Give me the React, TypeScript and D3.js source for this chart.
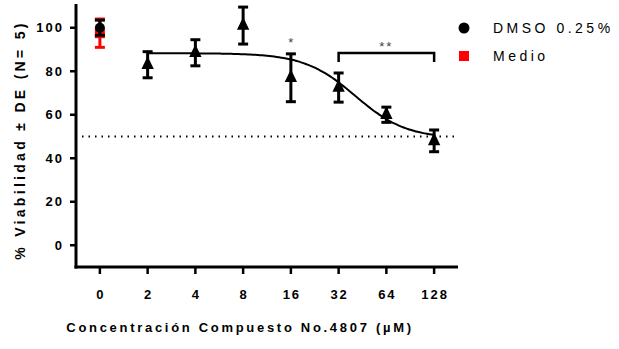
import React from "react";
import * as d3 from "d3";

// concentraciones (uM) y viabilidad media ± DE
const concentrations = [2, 4, 8, 16, 32, 64, 128];
const means = [83, 88.5, 101, 77, 72.5, 60, 48];
const sds = [6, 6, 8.5, 11, 6.7, 3.5, 5];

const xTickLabels = ["0", "2", "4", "8", "16", "32", "64", "128"];
const yTicks = [0, 20, 40, 60, 80, 100];

// controles en concentración 0
const dmso = { mean: 100, sd: 3.5 };
const medio = { mean: 97.5, sd: 6.5 };

// ajuste sigmoidal (4 parámetros, eje log2)
const fitTop = 88.3;
const fitBottom = 49;
const fitLogEC50 = 5.35;
const fitSlope = 2.7;

const FONT = "'Liberation Sans', Arial, sans-serif";

export default function App() {
  const width = 619;
  const height = 349;

  const x = d3.scaleLinear().domain([-0.5, 7.5]).range([76, 458]);
  const y = d3.scaleLinear().domain([-10, 110]).range([267, 6]);
  const pos = (c: number) => (c === 0 ? 0 : Math.log2(c));

  const fit = (t: number) =>
    fitBottom + (fitTop - fitBottom) / (1 + Math.pow(2, (t - fitLogEC50) * fitSlope));
  const curvePts = d3.range(1, 7.001, 0.05);
  const line = d3
    .line<number>()
    .x((t) => x(t))
    .y((t) => y(fit(t)))
    .curve(d3.curveMonotoneX);

  const tri = d3.symbol().type(d3.symbolTriangle).size(66)();

  const errBar = (cx: number, m: number, s: number, color: string, key: string) => (
    <g key={key} stroke={color} strokeWidth={3}>
      <line x1={cx} x2={cx} y1={y(m + s)} y2={y(m - s)} />
      <line x1={cx - 5} x2={cx + 5} y1={y(m + s)} y2={y(m + s)} />
      <line x1={cx - 5} x2={cx + 5} y1={y(m - s)} y2={y(m - s)} />
    </g>
  );

  const x0 = x(0);
  const bx1 = x(pos(32));
  const bx2 = x(pos(128));

  return (
    <svg
      width={width}
      height={height}
      style={{ position: "absolute", left: 0, top: 0, background: "#fff" }}
      fontFamily={FONT}
    >
      {/* línea de 50% */}
      <line
        x1={82}
        x2={458}
        y1={y(50)}
        y2={y(50)}
        stroke="#000"
        strokeWidth={2}
        strokeDasharray="1.5 5"
      />

      {/* curva ajustada */}
      <path d={line(curvePts) ?? ""} fill="none" stroke="#000" strokeWidth={2} />

      {/* controles */}
      {errBar(x0, medio.mean, medio.sd, "#ff0000", "medio")}
      <rect x={x0 - 5} y={y(medio.mean) - 5} width={10} height={10} fill="#ff0000" />
      {errBar(x0, dmso.mean, dmso.sd, "#000", "dmso")}
      <circle cx={x0} cy={y(dmso.mean)} r={5} fill="#000" />

      {/* compuesto */}
      {concentrations.map((c, i) => (
        <g key={c}>
          {errBar(x(pos(c)), means[i], sds[i], "#000", "e" + c)}
          <path
            d={tri ?? ""}
            transform={`translate(${x(pos(c))},${y(means[i])}) scale(1,1.2)`}
            fill="#000"
          />
        </g>
      ))}

      {/* significancia */}
      <text x={x(pos(16))} y={47} textAnchor="middle" fontSize={13} fill="#444">
        *
      </text>
      <path
        d={`M${bx1},${62} V${53} H${bx2} V${62}`}
        fill="none"
        stroke="#000"
        strokeWidth={2.5}
      />
      <text x={(bx1 + bx2) / 2} y={51} textAnchor="middle" fontSize={13} fill="#444" letterSpacing={2}>
        **
      </text>

      {/* ejes */}
      <line x1={76} x2={76} y1={4} y2={268.5} stroke="#000" strokeWidth={3} />
      <line x1={74.5} x2={458} y1={267} y2={267} stroke="#000" strokeWidth={3} />
      {yTicks.map((t) => (
        <g key={t}>
          <line x1={70} x2={76} y1={y(t)} y2={y(t)} stroke="#000" strokeWidth={2.5} />
          <text
            x={64}
            y={y(t) + 4.5}
            textAnchor="end"
            fontSize={13}
            fontWeight="bold"
            letterSpacing={2}
          >
            {t}
          </text>
        </g>
      ))}
      {xTickLabels.map((lab, i) => (
        <g key={lab}>
          <line x1={x(i)} x2={x(i)} y1={267} y2={274} stroke="#000" strokeWidth={2.5} />
          <text x={x(i) + 1} y={299} textAnchor="middle" fontSize={13} fontWeight="bold" letterSpacing={2}>
            {lab}
          </text>
        </g>
      ))}

      {/* títulos */}
      <text
        transform={`translate(25,${140}) rotate(-90)`}
        textAnchor="middle"
        fontSize={14}
        fontWeight="bold"
        letterSpacing={3.3}
      >
        % Viabilidad ± DE (N= 5)
      </text>
      <text x={240} y={332} textAnchor="middle" fontSize={13} fontWeight="bold" letterSpacing={2.7}>
        Concentración Compuesto No.4807 (µM)
      </text>

      {/* leyenda */}
      <circle cx={464} cy={28} r={5.5} fill="#000" />
      <text x={493} y={33} fontSize={14} letterSpacing={3.5}>
        DMSO 0.25%
      </text>
      <rect x={459} y={51} width={10} height={10} fill="#ff0000" />
      <text x={493} y={61} fontSize={14} letterSpacing={3.5}>
        Medio
      </text>
    </svg>
  );
}
